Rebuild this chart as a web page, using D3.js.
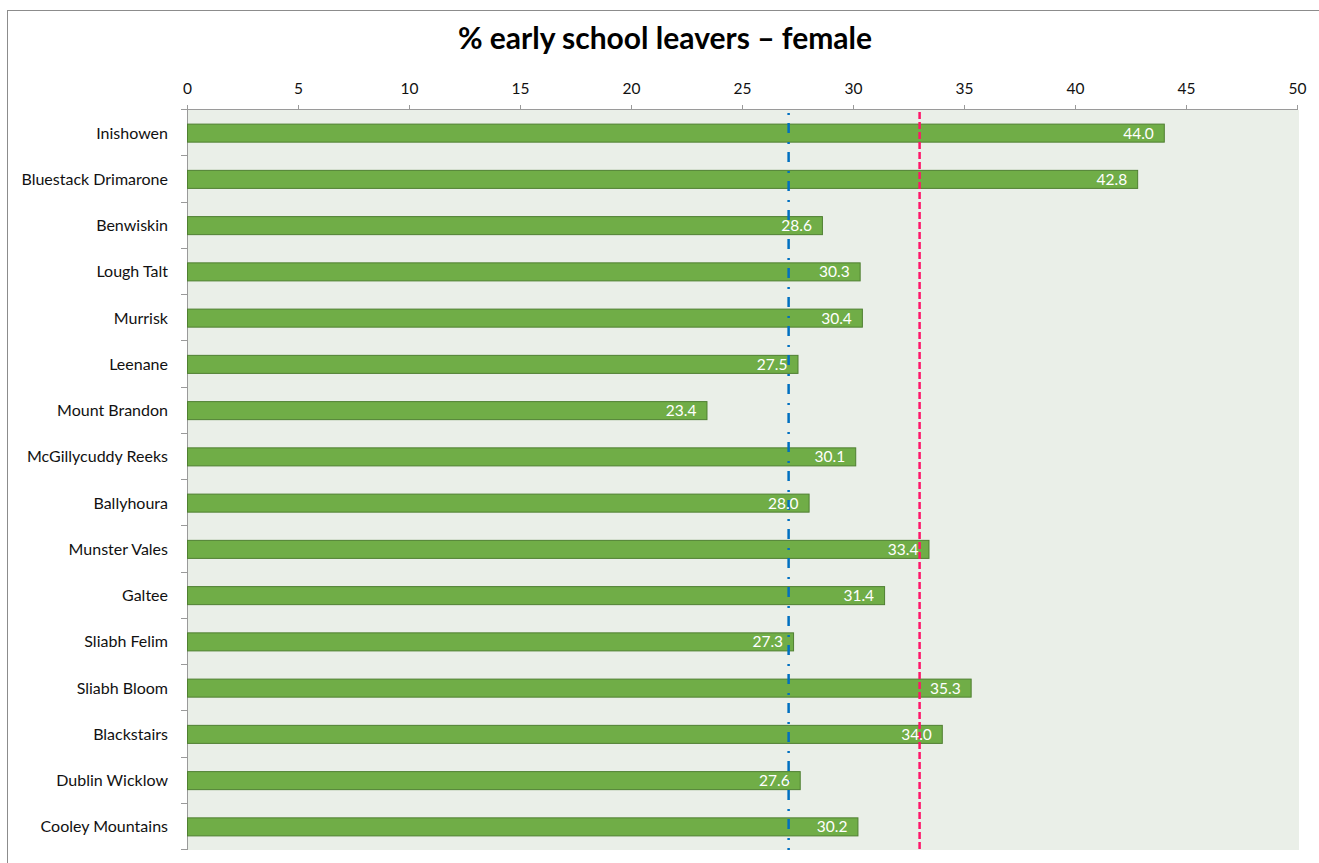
<!DOCTYPE html>
<html>
<head>
<meta charset="utf-8">
<script src="https://cdn.jsdelivr.net/npm/d3@7"></script>
<style>
  html, body { margin: 0; padding: 0; background: #fff; }
  svg { display: block; }
  text { font-family: Lato, "Open Sans", "Noto Sans", sans-serif; }
</style>
</head>
<body>
<svg id="chart" width="1319" height="863"></svg>
<script>
// Regions (top to bottom) and % of female early school leavers
const regions = [
  "Inishowen", "Bluestack Drimarone", "Benwiskin", "Lough Talt", "Murrisk",
  "Leenane", "Mount Brandon", "McGillycuddy Reeks", "Ballyhoura", "Munster Vales",
  "Galtee", "Sliabh Felim", "Sliabh Bloom", "Blackstairs", "Dublin Wicklow",
  "Cooley Mountains"
];
const values = [
  44.0, 42.8, 28.6, 30.3, 30.4,
  27.5, 23.4, 30.1, 28.0, 33.4,
  31.4, 27.3, 35.3, 34.0, 27.6,
  30.2
];
const xTicks = [0, 5, 10, 15, 20, 25, 30, 35, 40, 45, 50];
// Reference levels drawn as vertical lines
const refBlue = 27.1;
const refPink = 33.0;
const title = "% early school leavers \u2013 female";

const svg = d3.select("#chart");
const W = 1319, H = 863;
const plot = { left: 187, right: 1297, top: 110, bottom: 850 };

// Outer chart border (runs past the right and bottom edges)
svg.append("rect")
  .attr("x", 7.5).attr("y", 10.5)
  .attr("width", W + 20).attr("height", H + 20)
  .attr("fill", "#fff").attr("stroke", "#8c8c8c").attr("stroke-width", 1);

const x = d3.scaleLinear().domain([0, 50]).range([plot.left, plot.right]);
const y = d3.scaleBand().domain(regions).range([plot.top, plot.bottom])
  .paddingInner(0.61).paddingOuter(0.305);
const band = d3.scaleBand().domain(regions).range([plot.top, plot.bottom]);

// Plot area background
svg.append("rect")
  .attr("x", plot.left).attr("y", plot.top)
  .attr("width", x(50) - plot.left + 2).attr("height", plot.bottom - plot.top)
  .attr("fill", "#eaefe8");

// Top value axis
const xAxis = svg.append("g")
  .attr("transform", `translate(0,${plot.top})`)
  .call(d3.axisTop(x).tickValues(xTicks).tickSize(5).tickPadding(11).tickFormat(d3.format("d")));
xAxis.select(".domain").attr("stroke", "#9a9a9a").attr("d", `M${plot.left},-0.5H${x(50)+0.5}`);
xAxis.selectAll(".tick line").attr("stroke", "#9a9a9a");
xAxis.selectAll(".tick text").attr("font-size", 15.5).attr("fill", "#111");

// Left category axis with ticks at band boundaries
const yAxis = svg.append("g").attr("transform", `translate(${plot.left},0)`);
yAxis.append("line")
  .attr("x1", 0.5).attr("x2", 0.5).attr("y1", plot.top).attr("y2", plot.bottom)
  .attr("stroke", "#9a9a9a");
const bounds = regions.map(r => band(r)).concat([plot.bottom]);
yAxis.selectAll("line.tk").data(bounds).join("line")
  .attr("class", "tk")
  .attr("x1", -6).attr("x2", 0.5)
  .attr("y1", d => Math.round(d) - 0.5).attr("y2", d => Math.round(d) - 0.5)
  .attr("stroke", "#9a9a9a");
yAxis.selectAll("text").data(regions).join("text")
  .attr("x", -19)
  .attr("y", d => band(d) + band.bandwidth() / 2)
  .attr("dy", "0.35em")
  .attr("text-anchor", "end")
  .attr("font-size", 16)
  .attr("fill", "#111")
  .text(d => d);

// Bars
const rows = regions.map((r, i) => ({ region: r, value: values[i] }));
svg.append("g").selectAll("rect").data(rows).join("rect")
  .attr("x", x(0) + 0.5)
  .attr("y", d => y(d.region))
  .attr("width", d => x(d.value) - x(0))
  .attr("height", y.bandwidth())
  .attr("fill", "#70ad47")
  .attr("stroke", "#4f7f31")
  .attr("stroke-width", 1);

// Reference lines
svg.append("line")
  .attr("x1", x(refBlue)).attr("x2", x(refBlue))
  .attr("y1", plot.top + 3).attr("y2", plot.bottom)
  .attr("stroke", "#0070c0").attr("stroke-width", 2.5)
  .attr("stroke-dasharray", "2,8,10,9");
svg.append("line")
  .attr("x1", x(refPink)).attr("x2", x(refPink))
  .attr("y1", plot.top + 2).attr("y2", plot.bottom)
  .attr("stroke", "#ff1569").attr("stroke-width", 2.5)
  .attr("stroke-dasharray", "7,3");

// Value labels, inside the bar end
svg.append("g").selectAll("text").data(rows).join("text")
  .attr("x", d => x(d.value) - 10)
  .attr("y", d => y(d.region) + y.bandwidth() / 2)
  .attr("dy", "0.36em")
  .attr("text-anchor", "end")
  .attr("font-size", 15.5)
  .attr("fill", "#ffffff")
  .text(d => d3.format(".1f")(d.value));

// Title
svg.append("text")
  .attr("x", 665).attr("y", 49)
  .attr("text-anchor", "middle")
  .attr("font-size", 30)
  .attr("font-weight", "bold")
  .attr("fill", "#000")
  .text(title);
</script>
</body>
</html>
